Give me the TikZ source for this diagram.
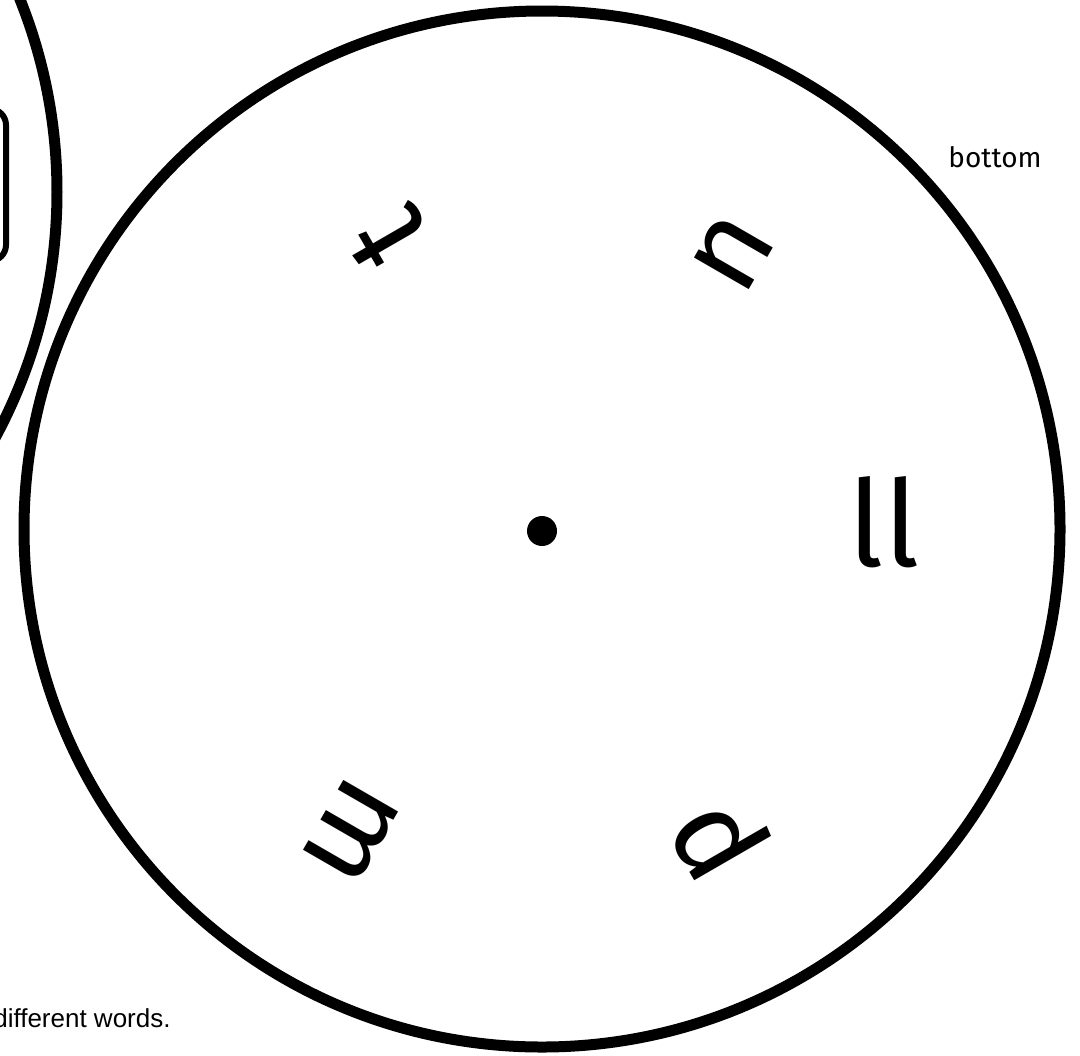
\documentclass[tikz,border=0pt]{standalone}
\usepackage{fontspec}
\setmainfont{Fira Sans}
\newfontfamily\wheelfont{Fira Sans}
\newfontfamily\notefont{Liberation Sans}
\begin{document}
\begin{tikzpicture}[x=0.5pt,y=-0.5pt,
  wheel/.style={draw=black,line width=5.5pt},
  window/.style={draw=black,line width=3pt,rounded corners=8pt},
  letter/.style={inner sep=0pt,font=\wheelfont\fontsize{60pt}{72pt}\selectfont},
  label/.style={inner sep=0pt,anchor=base,font=\fontsize{14pt}{17pt}\selectfont},
  note/.style={inner sep=0pt,anchor=base east,font=\notefont\fontsize{13pt}{16pt}\selectfont}]
\useasboundingbox (0,0) rectangle (1080,1055);
\clip (0,0) rectangle (1080,1055);
% top wheel (partly visible) with its window
\draw[wheel] (-461,192) circle[radius=259pt];
\draw[window] (-100,109) rectangle (6,261);
% bottom wheel
\draw[wheel] (542,529) circle[radius=259pt];
\fill[black] (542,531) circle[radius=7.5pt];
\coordinate (hub) at (542,531);
% letters around the wheel
\node[letter,rotate=0]   (l0)   at (884,522) {ll};
\node[letter,rotate=60]  (l60)  at (733,253) {n};
\node[letter,rotate=120] (l120) at (388,237) {t};
\node[letter,rotate=240] (l240) at (352,831) {m};
\node[letter,rotate=300] (l300) at (721,837) {d};
% texts
\node[label] (bottom) at (995,167) {bottom};
\node[note] (words) at (171,1027) {different words.};
\end{tikzpicture}
\end{document}
